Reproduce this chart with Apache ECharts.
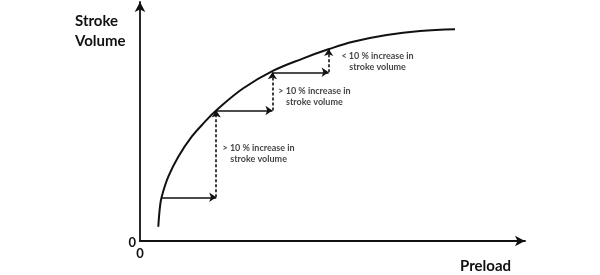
<!DOCTYPE html>
<html>
<head>
<meta charset="utf-8">
<script src="https://cdn.jsdelivr.net/npm/echarts@6/dist/echarts.min.js"></script>
<style>html,body{margin:0;padding:0;background:#fff}#c{width:600px;height:275px}</style>
</head>
<body>
<div id="c"></div>
<script>
// Frank-Starling curve (arbitrary units, 0-100)
var curveX = [4.75, 5.19, 5.64, 7.35, 9.95, 13.43, 16.88, 19.92, 26.83, 34.62, 42.42, 48.91, 55.32, 64.08, 72.73, 81.82];
var curveY = [5.98, 14.35, 18.54, 26.9, 35.27, 43.64, 49.92, 54.81, 63.89, 71.26, 76.44, 80.21, 83.39, 86.19, 87.87, 88.58];
// staircase steps on the curve
var stepX = [5.7, 19.8, 34.4, 49.0];
var stepY = [18.3, 54.6, 70.6, 80.3];
// annotations
var noteText = ['> 10 % increase in\nstroke volume', '> 10 % increase in\nstroke volume', '< 10 % increase in\nstroke volume'];
var noteX = [30.8, 45.3, 61.7];
var noteY = [36.6, 60.3, 75.1];
var xName = 'Preload';
var yName = 'Stroke\nVolume';

var FONT = 'Lato, "Open Sans", sans-serif';

var curve = curveX.map(function (x, i) { return [x, curveY[i]]; });
var hArrows = [], vArrows = [];
for (var i = 0; i < stepX.length - 1; i++) {
  hArrows.push({ coords: [[stepX[i], stepY[i]], [stepX[i + 1], stepY[i]]] });
  vArrows.push({ coords: [[stepX[i + 1], stepY[i]], [stepX[i + 1], stepY[i + 1]]] });
}
var notes = noteX.map(function (x, i) { return { value: [x, noteY[i]], name: noteText[i] }; });

var chart = echarts.init(document.getElementById('c'), null, { renderer: 'canvas' });
chart.setOption({
  animation: false,
  backgroundColor: '#fff',
  grid: { left: 140, right: 75, top: 2, bottom: 34, containLabel: false },
  xAxis: {
    type: 'value', min: 0, max: 100, interval: 100,
    axisLine: { show: true, symbol: ['none', 'arrow'], symbolSize: [8, 10], lineStyle: { color: '#111', width: 1.8 } },
    axisTick: { show: false }, splitLine: { show: false },
    axisLabel: { margin: 6, color: '#111', fontFamily: FONT, fontWeight: 'bold', fontSize: 13,
      formatter: function (v) { return v === 0 ? '0' : ''; } }
  },
  yAxis: {
    type: 'value', min: 0, max: 100, interval: 100,
    axisLine: { show: true, symbol: ['none', 'arrow'], symbolSize: [8, 10], lineStyle: { color: '#111', width: 1.8 } },
    axisTick: { show: false }, splitLine: { show: false },
    axisLabel: { margin: 4, color: '#111', fontFamily: FONT, fontWeight: 'bold', fontSize: 13, verticalAlign: 'top', padding: [-5, 0, 0, 0],
      formatter: function (v) { return v === 0 ? '0' : ''; } }
  },
  graphic: [
    { type: 'text', left: 75, top: 11, style: { text: yName, font: 'bold 15px ' + FONT, fill: '#111', lineHeight: 20 } },
    { type: 'text', left: 460, top: 259, style: { text: xName, font: 'bold 15px ' + FONT, fill: '#111' } }
  ],
  series: [
    { type: 'line', data: curve, smooth: 0.4, showSymbol: false, lineStyle: { color: '#111', width: 2 }, z: 3 },
    { type: 'lines', coordinateSystem: 'cartesian2d', data: hArrows, symbol: ['none', 'arrow'], symbolSize: 7,
      itemStyle: { color: '#111' },
      lineStyle: { color: '#111', width: 1.6, opacity: 1, type: 'solid', curveness: 0 }, z: 4 },
    { type: 'lines', coordinateSystem: 'cartesian2d', data: vArrows, symbol: ['none', 'arrow'], symbolSize: 7,
      itemStyle: { color: '#111' },
      lineStyle: { color: '#111', width: 1.6, opacity: 1, type: [3, 2], curveness: 0 }, z: 4 },
    { type: 'scatter', data: notes, symbolSize: 0, silent: true,
      label: { show: true, position: 'inside', formatter: function (p) { return p.name; },
        color: '#111', fontFamily: FONT, fontWeight: 'bold', fontSize: 9, lineHeight: 11, align: 'center' } }
  ]
});
</script>
</body>
</html>
